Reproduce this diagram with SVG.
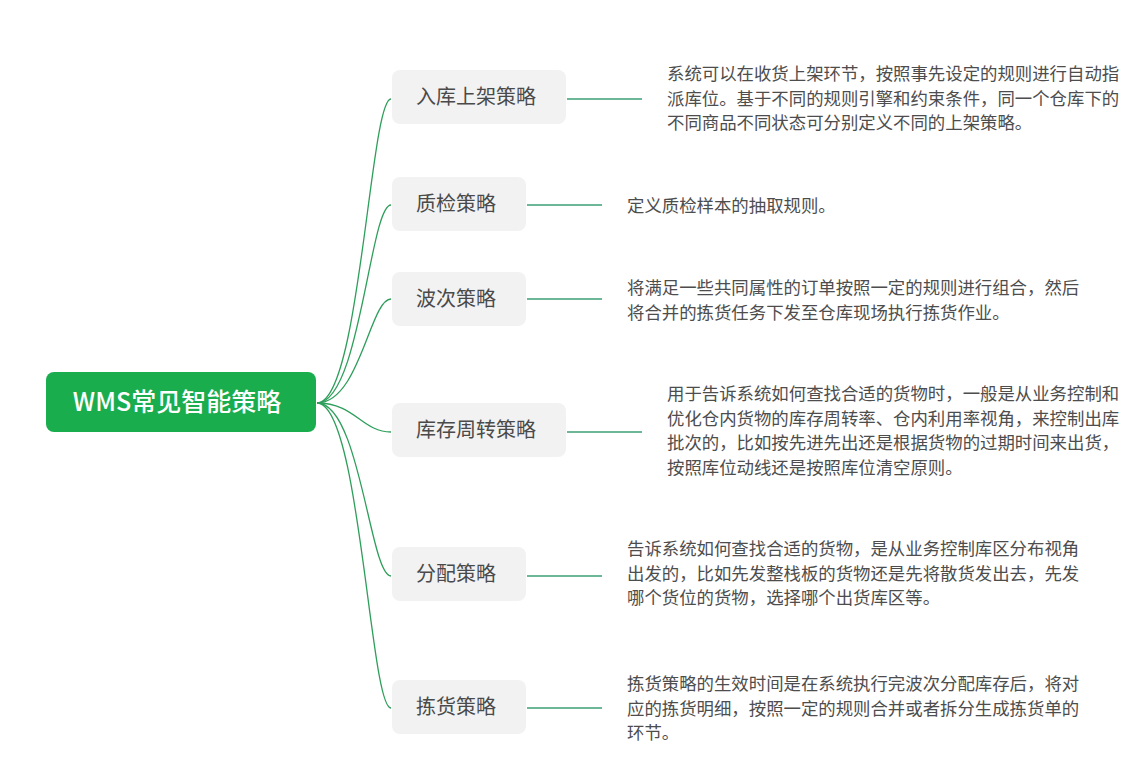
<svg xmlns="http://www.w3.org/2000/svg" width="1140" height="776" viewBox="0 0 1140 776">
<style>
text{font-family:"Noto Sans CJK SC","Noto Sans",sans-serif}
.root{fill:#1aad4e}
.rt{fill:#fff;font-size:25px;font-weight:500;text-anchor:middle}
.box{fill:#f2f2f2}
.bt{fill:#4a4a4a;font-size:20px;text-anchor:middle}
.dt{fill:#4d4d4d;font-size:17.4px}
.curve{fill:none;stroke:#2e9e5b;stroke-width:1.3}
.line{fill:none;stroke:#3a9f76;stroke-width:1.6}
</style>
<rect width="1140" height="776" fill="#fff"/>
<g id="connectors">
<path class="curve" d="M317 403 C360 403,370 99,391 99"/>
<path class="curve" d="M317 403 C360 403,370 205,391 205"/>
<path class="curve" d="M317 403 C360 403,370 299,391 299"/>
<path class="curve" d="M317 403 C355 403,362 432,391 432"/>
<path class="curve" d="M317 403 C360 403,370 576,391 576"/>
<path class="curve" d="M317 403 C360 403,370 708,391 708"/>
<path class="line" d="M567 99H642"/>
<path class="line" d="M527 205H602"/>
<path class="line" d="M527 299H602"/>
<path class="line" d="M567 432H642"/>
<path class="line" d="M527 576H602"/>
<path class="line" d="M527 708H602"/>
</g>
<g id="root">
<rect class="root" x="46" y="372" width="270" height="60" rx="8"/>
<text class="rt" x="177" y="411">WMS常见智能策略</text>
</g>
<g id="n1">
<rect class="box" x="392" y="70" width="174" height="54" rx="8"/>
<text class="bt" x="476" y="104">入库上架策略</text>
</g>
<g id="n2">
<rect class="box" x="392" y="177" width="134" height="54" rx="8"/>
<text class="bt" x="456" y="211">质检策略</text>
</g>
<g id="n3">
<rect class="box" x="392" y="272" width="134" height="54" rx="8"/>
<text class="bt" x="456" y="306">波次策略</text>
</g>
<g id="n4">
<rect class="box" x="392" y="403" width="174" height="54" rx="8"/>
<text class="bt" x="476" y="437">库存周转策略</text>
</g>
<g id="n5">
<rect class="box" x="392" y="547" width="134" height="54" rx="8"/>
<text class="bt" x="456" y="581">分配策略</text>
</g>
<g id="n6">
<rect class="box" x="392" y="680" width="134" height="54" rx="8"/>
<text class="bt" x="456" y="714">拣货策略</text>
</g>
<g id="d1">
<text class="dt" x="667" y="80">系统可以在收货上架环节，按照事先设定的规则进行自动指</text>
<text class="dt" x="667" y="104.5">派库位。基于不同的规则引擎和约束条件，同一个仓库下的</text>
<text class="dt" x="667" y="129">不同商品不同状态可分别定义不同的上架策略。</text>
</g>
<g id="d2">
<text class="dt" x="627" y="212">定义质检样本的抽取规则。</text>
</g>
<g id="d3">
<text class="dt" x="627" y="294">将满足一些共同属性的订单按照一定的规则进行组合，然后</text>
<text class="dt" x="627" y="318.5">将合并的拣货任务下发至仓库现场执行拣货作业。</text>
</g>
<g id="d4">
<text class="dt" x="667" y="400">用于告诉系统如何查找合适的货物时，一般是从业务控制和</text>
<text class="dt" x="667" y="424.5">优化仓内货物的库存周转率、仓内利用率视角，来控制出库</text>
<text class="dt" x="667" y="449">批次的，比如按先进先出还是根据货物的过期时间来出货，</text>
<text class="dt" x="667" y="473.5">按照库位动线还是按照库位清空原则。</text>
</g>
<g id="d5">
<text class="dt" x="627" y="555">告诉系统如何查找合适的货物，是从业务控制库区分布视角</text>
<text class="dt" x="627" y="579.5">出发的，比如先发整栈板的货物还是先将散货发出去，先发</text>
<text class="dt" x="627" y="604">哪个货位的货物，选择哪个出货库区等。</text>
</g>
<g id="d6">
<text class="dt" x="627" y="690">拣货策略的生效时间是在系统执行完波次分配库存后，将对</text>
<text class="dt" x="627" y="714.5">应的拣货明细，按照一定的规则合并或者拆分生成拣货单的</text>
<text class="dt" x="627" y="739">环节。</text>
</g>
</svg>
